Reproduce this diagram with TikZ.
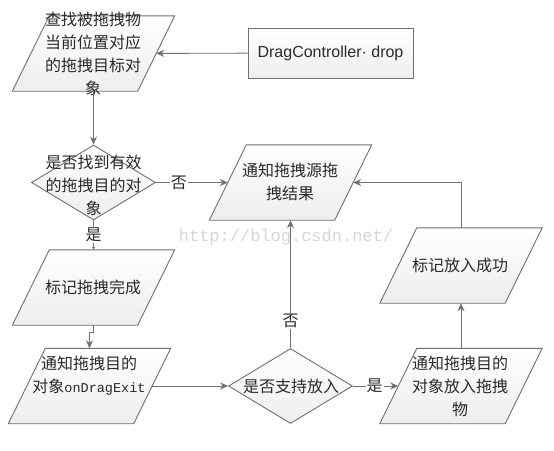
\documentclass[tikz,border=0pt]{standalone}
\usepackage{fontspec}
\setmainfont{Noto Sans CJK SC}
\newfontfamily\arialf{Liberation Sans}
\newfontfamily\monof{Liberation Mono}
\usetikzlibrary{shapes.geometric,arrows.meta}
\definecolor{edgec}{HTML}{707070}
\definecolor{txtc}{HTML}{2A2A2A}
\definecolor{wmc}{HTML}{D6D6D6}
\newcommand\paradraw[1]{%
  \path[shapebase] ([xshift=-18.5pt]#1.south west) -- ([xshift=-18.5pt]#1.south east)
    -- ([xshift=18.5pt]#1.north east) -- ([xshift=18.5pt]#1.north west) -- cycle;}
\begin{document}
\begin{tikzpicture}[x=1pt,y=-1pt,
  every node/.style={text=txtc, font=\fontsize{16}{23}\selectfont},
  shapebase/.style={draw=edgec, line width=0.9pt, top color=white, bottom color=black!7, inner sep=0pt},
  para/.style={rectangle, inner sep=0pt, minimum width=125pt, minimum height=75pt},
  dia/.style={shapebase, diamond, minimum width=124pt, minimum height=75pt},
  box/.style={shapebase, rectangle, minimum width=165pt, minimum height=50pt,
    font=\arialf\fontsize{16}{20}\selectfont},
  txt/.style={align=center, inner sep=0pt},
  lbl/.style={fill=white, inner sep=1pt},
  arr/.style={draw=edgec, line width=0.9pt, -{Stealth[length=8pt,width=7pt]}},
  arrs/.style={draw=edgec, line width=0.9pt, -{Stealth[length=3pt,width=3pt]}}
]
\useasboundingbox (0,0) rectangle (554,450);
\fill[white] (0,0) rectangle (554,450);
% watermark
\node[txt, font=\monof\fontsize{17}{20}\selectfont, text=wmc] (wm) at (286,237) {http://blog.csdn.net/};

% shapes
\node[para] (p1) at (93.5,53.5) {};
\paradraw{p1}
\node[txt] (t1) at (93,54) {查找被拖拽物\\当前位置对应\\的拖拽目标对\\象};
\node[box] (drag) at (330.5,53) {DragController· drop};
\node[dia] (d1) at (93.5,182.5) {};
\node[txt] (td1) at (93.5,185) {是否找到有效\\的拖拽目的对\\象};
\node[para] (p2) at (290.5,182.5) {};
\paradraw{p2}
\node[txt] (tp2) at (290,181.5) {通知拖拽源拖\\拽结果};
\node[para] (pm) at (93.5,287.5) {};
\paradraw{pm}
\node[txt] (tpm) at (93,287) {标记拖拽完成};
\node[para] (pe) at (89.5,386) {};
\paradraw{pe}
\node[txt] (tpe) at (89,375.5) {通知拖拽目的\\对象{\monof\fontsize{13.5}{23}\selectfont onDragExit}};
\node[dia] (d2) at (290.5,386) {};
\node[txt] (td2) at (291,386) {是否支持放入};
\node[para] (p3) at (461,265.5) {};
\paradraw{p3}
\node[txt] (tp3) at (460,265) {标记放入成功};
\node[para] (p4) at (461,386) {};
\paradraw{p4}
\node[txt] (tp4) at (460,386.5) {通知拖拽目的\\对象放入拖拽\\物};

% connectors
\draw[arr] (drag) -- (p1);
\draw[arr] (p1) -- (d1);
\draw[arr] (d1) -- node[lbl, pos=0.32] (l1) {否} (p2);
\draw[arrs] (d1) -- node[lbl] (l2) {是} (pm);
\draw[arr] (pm.south) -- ++(0,7) -| (pe.north);
\draw[arr] (pe) -- (d2);
\draw[arr] (d2) -- node[lbl, pos=0.21] (l3) {否} (p2);
\draw[arr] (d2) -- node[lbl, pos=0.48] (l4) {是} (p4);
\draw[arr] (p4) -- (p3);
\draw[arr] (p3) |- (p2);
\end{tikzpicture}
\end{document}
